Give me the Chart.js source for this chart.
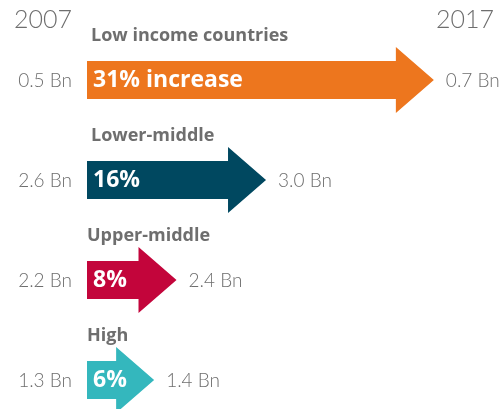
<!DOCTYPE html>
<html>
<head>
<meta charset="utf-8">
<script src="https://cdn.jsdelivr.net/npm/chart.js@4"></script>
<style>
  html, body { margin: 0; padding: 0; background: #fff; }
  #wrap { width: 503px; height: 409px; position: relative; }
</style>
</head>
<body>
<div id="wrap"><canvas id="arrows"></canvas></div>
<script>
// datos
const categorias = ["Low income countries", "Lower-middle", "Upper-middle", "High"];
const aumento = [31, 16, 8, 6]; // % de aumento 2007 -> 2017
const etiquetasAumento = ["31% increase", "16%", "8%", "6%"];
const pob2007 = ["0.5 Bn", "2.6 Bn", "2.2 Bn", "1.3 Bn"];
const pob2017 = ["0.7 Bn", "3.0 Bn", "2.4 Bn", "1.4 Bn"];
const anios = ["2007", "2017"];
const colores = ["#ED761E", "#004860", "#C3053B", "#34B7BD"];

const gris = "#6e6e6e";
const fuenteFina = "Lato, 'Open Sans', sans-serif";
const fuenteGruesa = "'Open Sans', Lato, sans-serif";

// Dibujo flechas en vez de barras
const flechas = {
  id: "flechas",
  beforeDatasetDraw() {
    return false;
  },
  afterDatasetsDraw(chart) {
    const ctx = chart.ctx;
    const meta = chart.getDatasetMeta(0);
    ctx.save();
    meta.data.forEach((bar, i) => {
      const cuerpo = bar.height / 2;
      const cabeza = 33;
      const largoCabeza = 38;
      const x0 = bar.base;
      const x1 = bar.x;
      const y = bar.y;
      ctx.fillStyle = bar.options.backgroundColor;
      ctx.beginPath();
      ctx.moveTo(x0, y - cuerpo);
      ctx.lineTo(x1 - largoCabeza, y - cuerpo);
      ctx.lineTo(x1 - largoCabeza, y - cabeza);
      ctx.lineTo(x1, y);
      ctx.lineTo(x1 - largoCabeza, y + cabeza);
      ctx.lineTo(x1 - largoCabeza, y + cuerpo);
      ctx.lineTo(x0, y + cuerpo);
      ctx.closePath();
      ctx.fill();

      // texto dentro de la flecha
      ctx.fillStyle = "#fff";
      ctx.font = "bold 23px " + fuenteGruesa;
      ctx.textAlign = "left";
      ctx.textBaseline = "middle";
      ctx.fillText(etiquetasAumento[i], x0 + 6, y);

      // categoria arriba
      ctx.fillStyle = gris;
      ctx.font = "bold 18px " + fuenteGruesa;
      ctx.fillText(categorias[i], i < 2 ? x0 + 4 : x0, y - 44);

      // valores a los lados
      ctx.font = "300 19px " + fuenteFina;
      ctx.textAlign = "right";
      ctx.fillText(pob2007[i], x0 - 15, y + 1);
      ctx.textAlign = "left";
      ctx.fillText(pob2017[i], x1 + 12, y + 1);
    });

    // anios arriba
    ctx.font = "300 25px " + fuenteFina;
    ctx.textBaseline = "alphabetic";
    ctx.textAlign = "left";
    ctx.fillText(anios[0], 14, 28);
    ctx.textAlign = "right";
    ctx.fillText(anios[1], 494, 28);
    ctx.restore();
  }
};

new Chart(document.getElementById("arrows").getContext("2d"), {
  type: "bar",
  data: {
    labels: categorias,
    datasets: [
      {
        label: "Aumento",
        data: aumento,
        backgroundColor: colores,
        barThickness: 38,
      },
    ],
  },
  options: {
    indexAxis: "y",
    responsive: true,
    maintainAspectRatio: false,
    animation: false,
    layout: {
      padding: { left: 87, right: 2, top: 80, bottom: 29 },
    },
    scales: {
      x: { display: false, min: 0, max: 37 },
      y: { display: false, offset: false },
    },
    plugins: {
      legend: { display: false },
      tooltip: { enabled: false },
      title: { display: false },
    },
  },
  plugins: [flechas],
});
</script>
</body>
</html>
